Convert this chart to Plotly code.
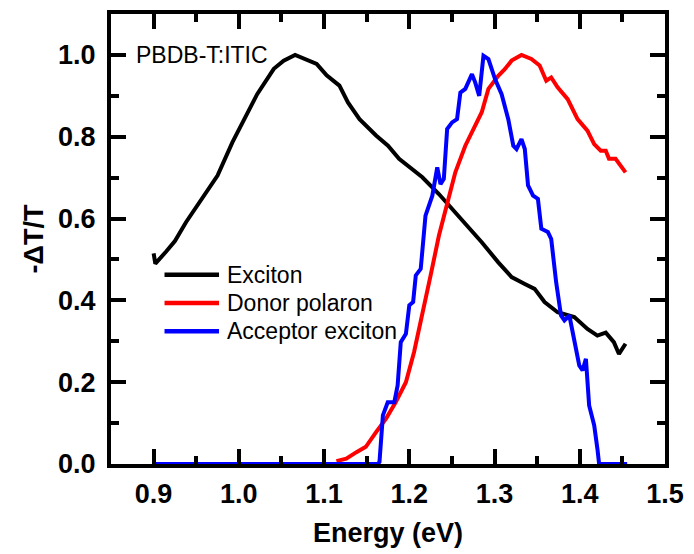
import plotly.graph_objects as go

# ---- data ----
exciton_E = [0.900, 0.902, 0.915, 0.925, 0.938, 0.9595, 0.975, 0.9924, 1.006, 1.0215, 1.041, 1.0526,
             1.066, 1.0797, 1.0913, 1.103, 1.118, 1.128, 1.1416, 1.161, 1.175, 1.188, 1.2153, 1.2347,
             1.258, 1.2695, 1.285, 1.3044, 1.32, 1.3355, 1.347, 1.3587, 1.374, 1.3936, 1.409,
             1.4207, 1.4305, 1.440, 1.446, 1.4537]
exciton_v = [0.515, 0.490, 0.520, 0.545, 0.591, 0.656, 0.705, 0.786, 0.843, 0.904, 0.966, 0.986,
             1.000, 0.988, 0.978, 0.950, 0.925, 0.884, 0.843, 0.803, 0.778, 0.746, 0.701, 0.660,
             0.607, 0.579, 0.542, 0.493, 0.457, 0.440, 0.428, 0.396, 0.371, 0.359, 0.330,
             0.314, 0.321, 0.298, 0.269, 0.294]

donor_E = [1.1145, 1.126, 1.138, 1.149, 1.161, 1.1727, 1.184, 1.196, 1.2056, 1.2153, 1.225,
           1.2347, 1.2444, 1.254, 1.2657, 1.2773, 1.285, 1.2928, 1.3044, 1.312, 1.320, 1.3316,
           1.3432, 1.3529, 1.3607, 1.3665, 1.374, 1.3858, 1.3974, 1.409, 1.4169, 1.4246,
           1.4305, 1.4343, 1.442, 1.4537]
donor_v = [0.007, 0.013, 0.029, 0.042, 0.078, 0.111, 0.151, 0.200, 0.274, 0.363, 0.461,
           0.558, 0.640, 0.713, 0.778, 0.827, 0.860, 0.917, 0.949, 0.965, 0.986, 1.000,
           0.990, 0.974, 0.937, 0.945, 0.921, 0.892, 0.843, 0.815, 0.782, 0.766,
           0.766, 0.746, 0.746, 0.713]

acceptor_E = [0.900, 1.163, 1.165, 1.169, 1.1747, 1.1824, 1.1863, 1.190, 1.196, 1.200, 1.2045,
              1.2076, 1.2134, 1.219, 1.227, 1.2328, 1.2366, 1.2405, 1.2444, 1.2502, 1.256,
              1.2599, 1.2657, 1.2735, 1.2773, 1.282, 1.287, 1.2928, 1.3006, 1.3083, 1.3161,
              1.322, 1.3258, 1.3316, 1.3355, 1.3393, 1.3452, 1.3509, 1.3549, 1.3626, 1.3665,
              1.3723, 1.378, 1.382, 1.3878, 1.3936, 1.3994, 1.4033, 1.4072, 1.411, 1.4169,
              1.4207, 1.4227, 1.4556]
acceptor_v = [0.0, 0.0, 0.005, 0.119, 0.151, 0.151, 0.192, 0.298, 0.318, 0.388, 0.396,
              0.461, 0.477, 0.607, 0.656, 0.725, 0.684, 0.697, 0.819, 0.835, 0.843,
              0.908, 0.917, 0.953, 0.933, 0.900, 0.998, 0.990, 0.941, 0.904, 0.843,
              0.778, 0.770, 0.794, 0.770, 0.681, 0.656, 0.648, 0.575, 0.567, 0.550,
              0.444, 0.363, 0.351, 0.363, 0.298, 0.241, 0.229, 0.257, 0.143, 0.095,
              0.037, 0.0, 0.0]

series_names = ["Exciton", "Donor polaron", "Acceptor exciton"]
series_colors = ["#000000", "#FF0000", "#0000FF"]
sample_label = "PBDB-T:ITIC"

FONT = "Liberation Sans, Arial, sans-serif"
W, H = 694, 554
ML, MR, MT, MB = 111, 24, 10, 90
PW, PH = W - ML - MR, H - MT - MB


def px(xp):
    return (xp - ML) / PW


def py(yp):
    return 1 - (yp - MT) / PH


fig = go.Figure()
for name, color, xs, ys in zip(series_names, series_colors,
                               [exciton_E, donor_E, acceptor_E],
                               [exciton_v, donor_v, acceptor_v]):
    fig.add_trace(go.Scatter(x=xs, y=ys, mode="lines", name=name, showlegend=False,
                             line=dict(color=color, width=4)))

axis_common = dict(
    showline=True, linecolor="black", linewidth=4, mirror="allticks",
    ticks="inside", ticklen=15, tickwidth=4, tickcolor="black",
    showgrid=False, zeroline=False,
    tickfont=dict(family=FONT, size=27, color="black", weight="bold"),
)

fig.update_xaxes(
    range=[0.85, 1.5], dtick=0.1, tick0=0.9, tickformat=".1f", ticklabelstandoff=3,
    minor=dict(ticks="inside", ticklen=8, tickwidth=4, tickcolor="black", dtick=0.05, tick0=0.9),
    title=dict(text="Energy (eV)", font=dict(family=FONT, size=27, color="black", weight="bold"),
               standoff=16),
    **axis_common,
)
fig.update_yaxes(
    range=[0, 1.1], dtick=0.2, tick0=0, tickformat=".1f", ticklabelstandoff=6,
    minor=dict(ticks="inside", ticklen=8, tickwidth=4, tickcolor="black", dtick=0.1, tick0=0),
    title=dict(text="-ΔT/T", font=dict(family=FONT, size=27, color="black", weight="bold"),
               standoff=8),
    **axis_common,
)

fig.add_annotation(x=0.8773, y=1.0, xref="x", yref="y", text=sample_label, showarrow=False,
                   xanchor="left", yanchor="middle",
                   font=dict(family=FONT, size=23, color="black"))

# legend drawn as key lines + labels
legend_rows = [273, 301.5, 330]
for name, color, yrow in zip(series_names, series_colors, legend_rows):
    fig.add_shape(type="line", xref="paper", yref="paper",
                  x0=px(165), x1=px(220), y0=py(yrow), y1=py(yrow),
                  line=dict(color=color, width=4.5))
    fig.add_annotation(x=px(226), y=py(yrow), xref="paper", yref="paper", text=name,
                       showarrow=False, xanchor="left", yanchor="middle",
                       font=dict(family=FONT, size=23, color="black"))

fig.update_layout(
    width=W, height=H,
    margin=dict(l=ML, r=MR, t=MT, b=MB),
    paper_bgcolor="white", plot_bgcolor="white",
    showlegend=False,
)

fig.write_html("out.html")
